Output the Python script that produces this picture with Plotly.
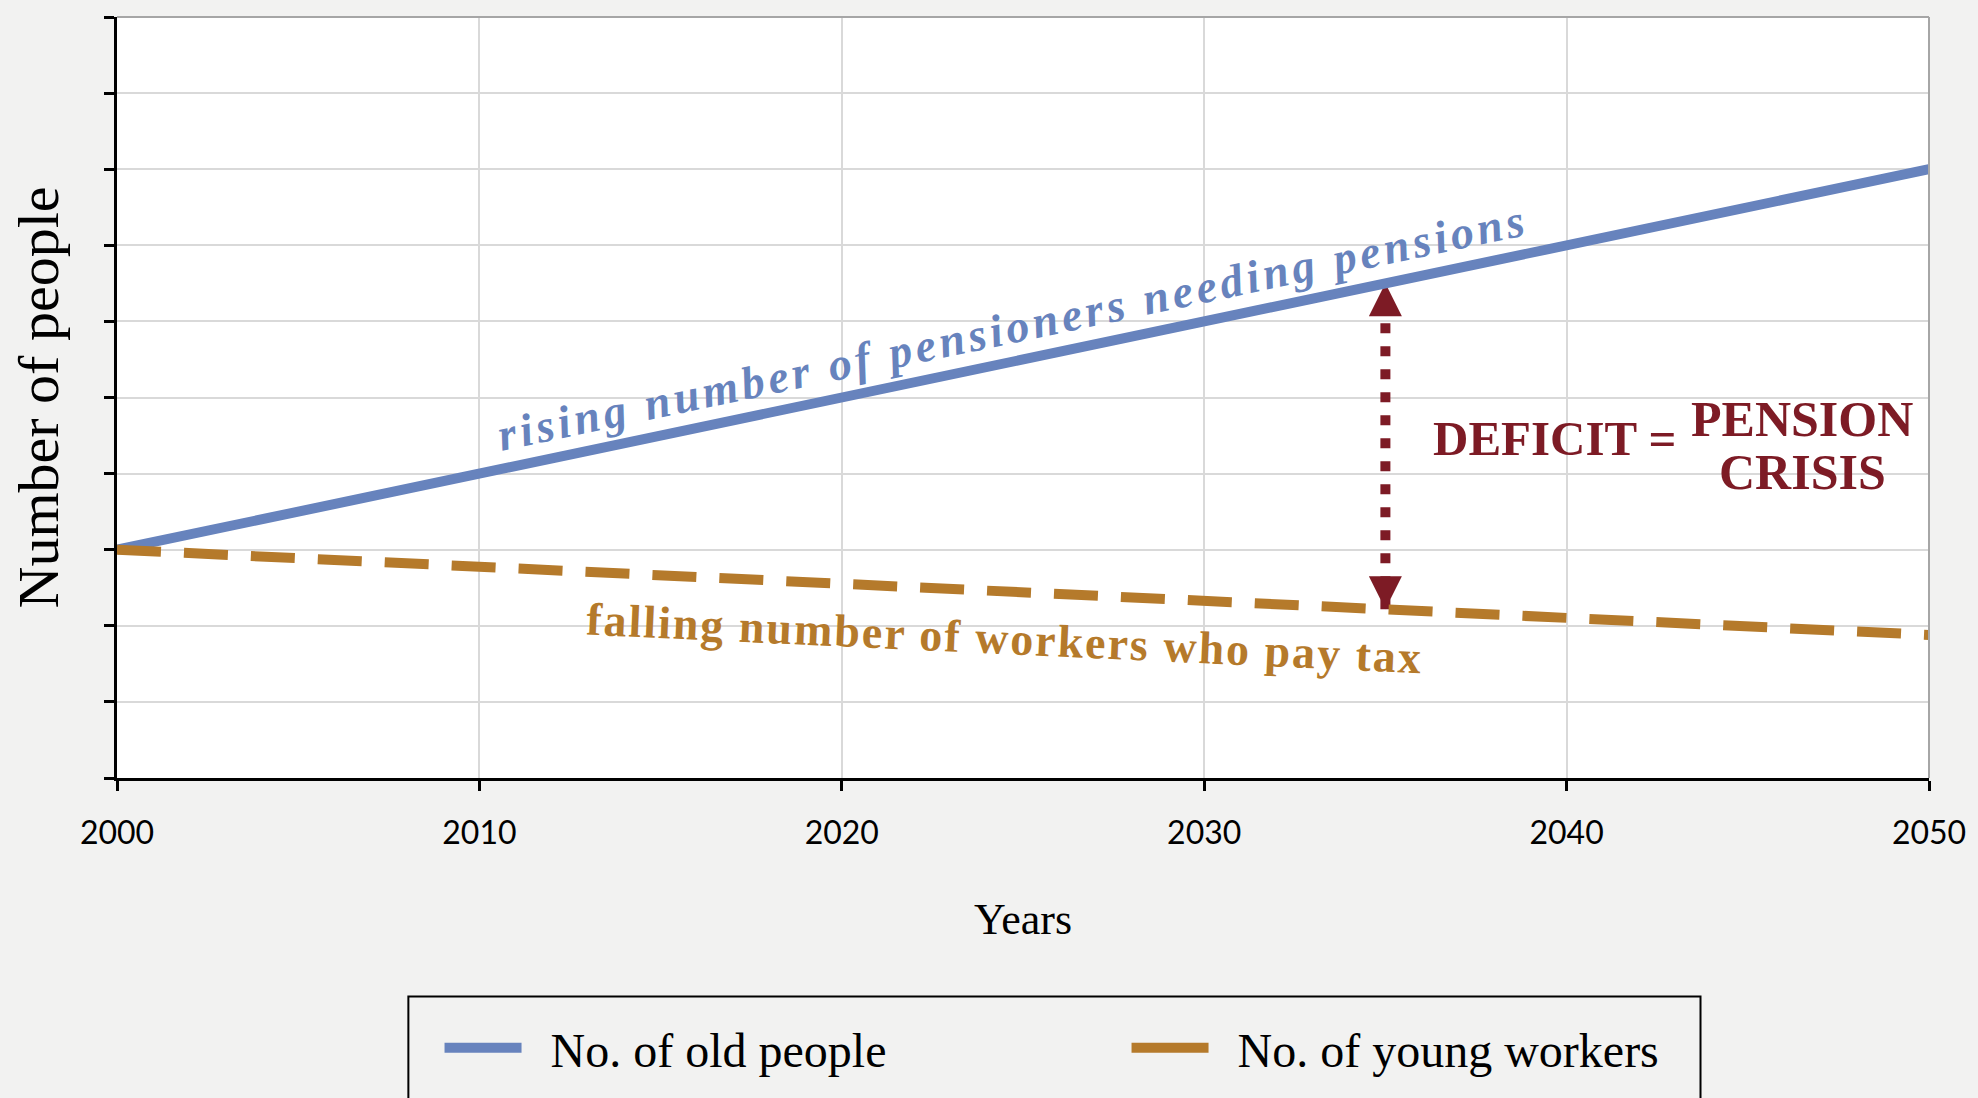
import numpy as np
import plotly.graph_objects as go

# Projected head-counts (arbitrary units) at the ends of the period
years = [2000, 2050]
old_people = [3.0, 8.0]
young_workers = [3.0, 1.88]

# Year at which the gap between the two groups is marked
deficit_year = 2035

x_ticks = [2000, 2010, 2020, 2030, 2040, 2050]
y_ticks = list(range(0, 11))

BLUE = "#6783bd"
ORANGE = "#b57a2b"
DARK_RED = "#7d1b25"
SERIF = "Liberation Serif"
PAD = "\u00a0\u00a0"  # small gap between legend swatch and label

# Ends of the deficit arrow sit on the two series at the chosen year
gap_top = float(np.interp(deficit_year, years, old_people))
gap_bottom = float(np.interp(deficit_year, years, young_workers))

fig = go.Figure()

fig.add_trace(go.Scatter(
    x=[deficit_year, deficit_year], y=[gap_bottom, gap_top],
    mode="lines+markers",
    line=dict(color=DARK_RED, width=10, dash="10px,13px"),
    marker=dict(symbol=["arrow-down", "arrow-up"], size=33, color=DARK_RED,
                line=dict(width=0)),
    showlegend=False, hoverinfo="skip",
))
fig.add_trace(go.Scatter(
    x=years, y=old_people, mode="lines", name=PAD + "No. of old people",
    line=dict(color=BLUE, width=10),
))
fig.add_trace(go.Scatter(
    x=years, y=young_workers, mode="lines", showlegend=False,
    line=dict(color=ORANGE, width=10, dash="44px,23px"),
    legendgroup="young",
))
# legend entry for the workers series uses a solid swatch
fig.add_trace(go.Scatter(
    x=[None], y=[None], mode="lines", name=PAD + "No. of young workers",
    line=dict(color=ORANGE, width=10), legendgroup="young",
))

fig.update_layout(
    width=1978, height=1098,
    margin=dict(l=117, r=41, t=17, b=318),
    paper_bgcolor="#f2f2f1",
    plot_bgcolor="white",
    xaxis=dict(
        range=[2000, 2050], tickvals=x_ticks, ticktext=[str(t) for t in x_ticks],
        ticks="outside", ticklen=10, tickwidth=3, tickcolor="black",
        showline=True, linecolor="black", linewidth=3,
        showgrid=True, gridcolor="#d9d9d9", gridwidth=1.5, zeroline=False,
        tickfont=dict(family="Lato", size=32, color="black"),
        ticklabelstandoff=15,
        title=dict(text="Years", font=dict(family=SERIF, size=44, color="black"),
                   standoff=53),
    ),
    yaxis=dict(
        range=[0, 10], tickvals=y_ticks,
        ticks="outside", ticklen=10, tickwidth=3, tickcolor="black",
        showticklabels=False,
        showline=True, linecolor="black", linewidth=3,
        showgrid=True, gridcolor="#d9d9d9", gridwidth=1.5, zeroline=False,
        title=dict(text="Number of people",
                   font=dict(family=SERIF, size=58, color="black"), standoff=27),
    ),
    legend=dict(
        orientation="h", x=0.178, xanchor="left", y=-0.355, yanchor="middle",
        bgcolor="rgba(0,0,0,0)", borderwidth=0,
        font=dict(family=SERIF, size=48, color="black"),
        itemwidth=77, entrywidth=595,
    ),
    shapes=[
        # light frame on the top and right of the plotting area
        dict(type="line", xref="paper", yref="paper", x0=0, x1=1, y0=1, y1=1,
             line=dict(color="#a6a6a6", width=2)),
        dict(type="line", xref="paper", yref="paper", x0=1, x1=1, y0=0, y1=1,
             line=dict(color="#a6a6a6", width=2)),
        # legend frame
        dict(type="rect", xref="paper", yref="paper",
             x0=0.1608, x1=0.8739, y0=-0.45, y1=-0.287,
             line=dict(color="black", width=2), fillcolor="rgba(0,0,0,0)"),
    ],
    annotations=[
        dict(x=2024.7, y=5.92, xref="x", yref="y", showarrow=False,
             text='<span style="letter-spacing:4px">rising number of pensioners needing pensions</span>',
             textangle=-11.9,
             font=dict(family=SERIF, size=46, color=BLUE, style="italic", weight=600)),
        dict(x=2024.5, y=1.83, xref="x", yref="y", showarrow=False,
             text='<span style="letter-spacing:2px">falling number of workers who pay tax</span>',
             textangle=2.65,
             font=dict(family=SERIF, size=46, color=ORANGE, weight=700)),
        dict(x=2036.26, y=4.46, xref="x", yref="y", xanchor="left", showarrow=False,
             text="DEFICIT =",
             font=dict(family=SERIF, size=49, color=DARK_RED, weight=700)),
        dict(x=2046.5, y=4.72, xref="x", yref="y", xanchor="center", showarrow=False,
             text="PENSION",
             font=dict(family=SERIF, size=50, color=DARK_RED, weight=700)),
        dict(x=2046.5, y=4.02, xref="x", yref="y", xanchor="center", showarrow=False,
             text="CRISIS",
             font=dict(family=SERIF, size=50, color=DARK_RED, weight=700)),
    ],
)

fig.write_html("out.html", config={"displayModeBar": False})
